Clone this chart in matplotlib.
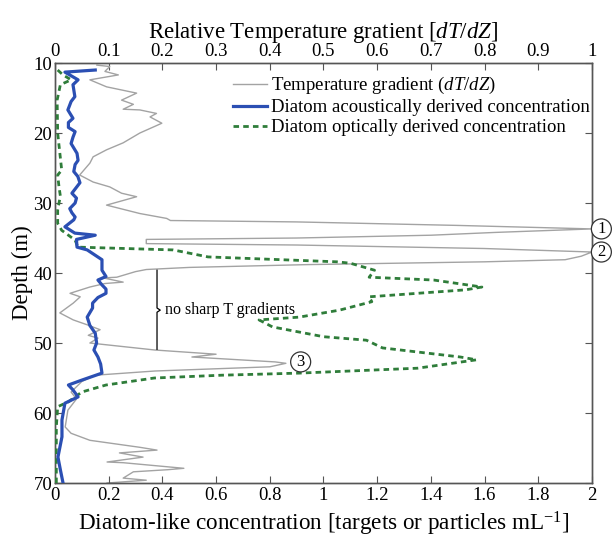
import matplotlib
matplotlib.use('Agg')
import matplotlib.pyplot as plt
from matplotlib.lines import Line2D

plt.rcParams['font.family'] = ['Liberation Serif', 'DejaVu Serif']
plt.rcParams['mathtext.fontset'] = 'custom'
plt.rcParams['mathtext.rm'] = 'Liberation Serif'
plt.rcParams['mathtext.it'] = 'Liberation Serif:italic'

# ===== 数据=====
# 温度梯度 (相对值, 上轴)
temp_depth = [10.3, 10.5, 11.2, 11.7, 12.4, 13.4, 14.3, 15.3, 15.9, 16.6, 16.7, 17.2, 17.7, 18.6,
              20.0, 21.4, 22.4, 23.4, 24.3, 26.0, 27.0, 27.7, 28.6, 29.1, 30.3, 31.5, 32.2, 32.5,
              32.7, 33.2, 33.7, 34.2, 34.6, 35.0, 35.2, 35.8, 36.0, 36.5, 37.0, 37.6, 38.1, 38.4,
              38.8, 39.2, 39.5, 39.8, 40.6, 40.7, 41.3, 41.5, 42.0, 42.9, 43.4, 44.3, 45.7, 46.7,
              47.4, 48.1, 48.9, 49.3, 50.0, 51.0, 51.6, 52.0, 52.7, 52.9, 53.4, 54.0, 54.6, 55.5,
              57.0, 58.0, 59.6, 62.0, 62.9, 63.9, 64.9, 65.3, 65.7, 66.3, 67.0, 67.1, 67.9, 68.1,
              68.4, 69.3, 69.6, 70.0]
temp_grad = [0.078, 0.102, 0.093, 0.118, 0.065, 0.096, 0.152, 0.124, 0.146, 0.127, 0.158, 0.189, 0.177, 0.199,
             0.158, 0.127, 0.096, 0.071, 0.065, 0.046, 0.071, 0.102, 0.124, 0.152, 0.096, 0.158, 0.208, 0.215,
             0.45, 0.75, 1.0, 0.82, 0.70, 0.45, 0.17, 0.17, 0.45, 0.80, 1.0, 0.98, 0.95, 0.80,
             0.47, 0.25, 0.17, 0.15, 0.115, 0.09, 0.127, 0.093, 0.065, 0.028, 0.047, 0.034, 0.009, 0.034,
             0.06, 0.084, 0.062, 0.08, 0.065, 0.186, 0.30, 0.255, 0.41, 0.43, 0.40, 0.186, 0.075, 0.05,
             0.03, 0.04, 0.024, 0.019, 0.03, 0.065, 0.158, 0.19, 0.12, 0.164, 0.097, 0.127, 0.24, 0.21,
             0.146, 0.127, 0.17, 0.097]

# 声学反演的硅藻浓度
acou_depth = [11.0, 11.3, 12.4, 13.1, 14.8, 15.5, 16.7, 17.9, 18.5, 19.2, 19.8, 20.6, 21.5, 22.9,
              23.9, 24.5, 25.5, 26.2, 27.1, 28.6, 29.3, 30.0, 30.8, 31.4, 32.0, 32.4, 33.4, 34.3,
              34.6, 35.2, 36.3, 36.7, 38.1, 39.6, 40.5, 41.0, 41.7, 42.3, 42.9, 43.5, 44.3, 45.0,
              46.3, 47.5, 48.6, 50.0, 51.0, 52.0, 53.0, 54.3, 55.3, 56.0, 56.7, 57.7, 58.6, 61.0,
              63.4, 66.3, 68.1, 70.0]
acou_conc = [0.15, 0.037, 0.086, 0.067, 0.074, 0.06, 0.048, 0.067, 0.05, 0.05, 0.075, 0.067, 0.06, 0.082,
             0.086, 0.075, 0.07, 0.085, 0.093, 0.063, 0.08, 0.075, 0.055, 0.063, 0.075, 0.07, 0.037, 0.074,
             0.15, 0.08, 0.082, 0.12, 0.175, 0.175, 0.19, 0.16, 0.175, 0.19, 0.19, 0.16, 0.14, 0.14,
             0.12, 0.13, 0.15, 0.155, 0.145, 0.16, 0.17, 0.175, 0.10, 0.05, 0.067, 0.086, 0.037, 0.026,
             0.026, 0.011, 0.02, 0.03]

# 光学反演的硅藻浓度
opt_depth = [11.0, 11.7, 12.4, 13.1, 15.3, 20.0, 25.3, 26.0, 27.7, 29.0, 31.0, 32.9, 33.9, 35.3,
             36.3, 36.7, 37.7, 38.4, 38.6, 39.6, 40.6, 41.0, 42.0, 42.4, 42.9, 43.4, 44.1, 45.3,
             46.3, 46.7, 47.7, 49.1, 49.6, 50.7, 52.0, 52.4, 53.6, 54.3, 54.6, 55.0, 56.0, 57.0,
             58.4, 59.1, 62.0, 66.0, 70.0]
opt_conc = [0.01, 0.03, 0.06, 0.02, 0.008, 0.01, 0.025, 0.01, 0.015, 0.02, 0.01, 0.01, 0.025, 0.075,
            0.085, 0.44, 0.57, 1.05, 1.10, 1.19, 1.17, 1.41, 1.59, 1.53, 1.35, 1.17, 1.18, 1.06,
            0.91, 0.76, 0.81, 1.0, 1.16, 1.22, 1.51, 1.57, 1.35, 0.91, 0.62, 0.37, 0.19, 0.10,
            0.05, 0.01, 0.005, 0.005, 0.005]

bottom_ticks = [0, 0.2, 0.4, 0.6, 0.8, 1, 1.2, 1.4, 1.6, 1.8, 2]
top_ticks = [0, 0.1, 0.2, 0.3, 0.4, 0.5, 0.6, 0.7, 0.8, 0.9, 1]
depth_ticks = [10, 20, 30, 40, 50, 60, 70]

GRAY = '#a3a3a3'
BLUE = '#2b4fb3'
GREEN = '#2f7d3a'

fig = plt.figure(figsize=(6.13, 5.41), dpi=100)
ax = fig.add_axes([0.0897, 0.1072, 0.876, 0.7763])
ax2 = ax.twiny()

# 温度梯度（上轴）
ax2.plot(temp_grad, temp_depth, color=GRAY, lw=1.0, zorder=2)
# 浓度（下轴）
ax.plot(opt_conc, opt_depth, color=GREEN, lw=2.0, ls=(0, (2, 1.5)), zorder=3)
ax.plot(acou_conc, acou_depth, color=BLUE, lw=2.3, zorder=4)

ax.set_xlim(0, 2)
ax.set_ylim(70, 10)
ax2.set_xlim(0, 1)
ax.set_zorder(ax2.get_zorder() + 1)
ax.patch.set_visible(False)

ax.set_xticks(bottom_ticks)
ax.set_xticklabels([f'{t:g}' for t in bottom_ticks])
ax2.set_xticks(top_ticks)
ax2.set_xticklabels([f'{t:g}' for t in top_ticks])
ax.set_yticks(depth_ticks)

for a in (ax, ax2):
    a.tick_params(direction='in', length=5, width=0.8, labelsize=13.5, color='#555555')
    for s in a.spines.values():
        s.set_color('#555555')
        s.set_linewidth(1.0)
ax.tick_params(axis='y', right=True, pad=2)
ax.tick_params(axis='x', pad=3)
ax2.tick_params(axis='x', pad=2)

ax.set_xlabel(r'Diatom-like concentration [targets or particles mL$^{-1}$]', fontsize=16.7, labelpad=4)
ax.set_ylabel('Depth (m)', fontsize=16.5, labelpad=0)
ax2.set_xlabel(r'Relative Temperature gratient [$dT/dZ$]', fontsize=16.5, labelpad=4)

# 图例
handles = [Line2D([], [], color=GRAY, lw=1.0),
           Line2D([], [], color=BLUE, lw=2.3),
           Line2D([], [], color=GREEN, lw=2.0, ls=(0, (2, 1.5)))]
labels = [r'Temperature gradient ($dT/dZ$)',
          'Diatom acoustically derived concentration',
          'Diatom optically derived concentration']
ax.legend(handles, labels, loc='upper left', bbox_to_anchor=(0.325, 0.98), frameon=False,
          fontsize=13.5, handlelength=1.8, handletextpad=0.2, labelspacing=0.15,
          borderaxespad=0, borderpad=0.2)

# 大括号 "no sharp T gradients"
bx = 0.38
ax.plot([bx, bx, bx + 0.012, bx, bx], [39.6, 45.0, 45.3, 45.6, 50.9], color='black', lw=0.9, zorder=5)
ax.text(bx + 0.03, 45.3, 'no sharp T gradients', fontsize=11.5, va='center', ha='left')

# 圆圈编号
circ = dict(boxstyle='circle,pad=0.12', fc='white', ec='#333333', lw=0.9)
ax.text(2.035, 33.7, '1', fontsize=12, ha='center', va='center', bbox=circ, clip_on=False)
ax.text(2.035, 37.0, '2', fontsize=12, ha='center', va='center', bbox=circ, clip_on=False)
ax.text(0.915, 52.7, '3', fontsize=12, ha='center', va='center', bbox=circ)

fig.savefig('out.png', dpi=100)
